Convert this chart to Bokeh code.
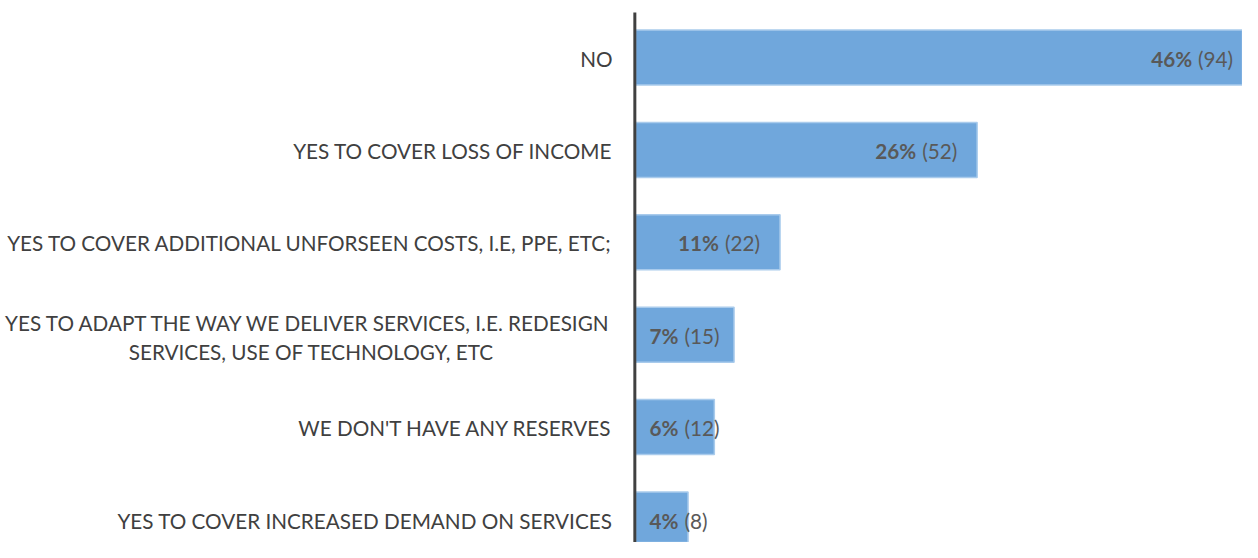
from bokeh.plotting import figure
from bokeh.models import ColumnDataSource, Range1d
from bokeh.core.properties import value
from bokeh.embed import file_html
from bokeh.resources import INLINE

categories = [
    "NO",
    "YES TO COVER LOSS OF INCOME",
    "YES TO COVER ADDITIONAL UNFORSEEN COSTS, I.E, PPE, ETC;",
    "YES TO ADAPT THE WAY WE DELIVER SERVICES, I.E. REDESIGN\nSERVICES, USE OF TECHNOLOGY, ETC",
    "WE DON'T HAVE ANY RESERVES",
    "YES TO COVER INCREASED DEMAND ON SERVICES",
]
counts = [94, 52, 22, 15, 12, 8]
percents = [46, 26, 11, 7, 6, 4]

FONT = "Lato"
BAR = "#70A7DC"
BAR_EDGE = "#A9CBEC"
TXT = "#404040"
VAL = "#595959"

W, H = 1242, 542
SCALE = 6.57           # px per count unit
ORIGIN = 635           # px of zero in frame
ROW = 92.4             # px per category row
TOP = 57               # px of first row centre

pos = list(range(len(categories)))

p = figure(width=W, height=H, output_backend="svg", toolbar_location=None,
           x_range=Range1d(-ORIGIN / SCALE, (W - ORIGIN) / SCALE),
           y_range=Range1d((H - TOP) / ROW, -TOP / ROW),
           min_border=0, outline_line_color=None,
           x_axis_location=None, y_axis_location=None)
p.grid.visible = False
p.background_fill_color = "white"
p.border_fill_color = "white"

src = ColumnDataSource(dict(y=pos, right=counts))
p.hbar(y="y", left=0, right="right", height=55 / ROW, source=src,
       fill_color=BAR, line_color=BAR_EDGE, line_width=1.5)

# axis line
p.segment(x0=[-0.1], x1=[-0.1], y0=[-TOP / ROW + 12 / ROW], y1=[(H - TOP) / ROW + 1],
          line_color="#404040", line_width=3)

# category labels
single = dict(x=[], y=[], t=[])
multi_first = dict(x=[], y=[], t=[])
multi_rest = dict(x=[], y=[], t=[])
for i, c in zip(pos, categories):
    lines = c.split("\n")
    if len(lines) == 1:
        single["x"].append(0); single["y"].append(i); single["t"].append(c)
    else:
        multi_first["x"].append(0); multi_first["y"].append(i); multi_first["t"].append(lines[0])
        for ln in lines[1:]:
            multi_rest["x"].append(0); multi_rest["y"].append(i); multi_rest["t"].append(ln)

common = dict(text_font=value(FONT), text_font_size="20.7px", text_color=TXT,
              text_baseline="middle")
p.text(x="x", y="y", text="t", source=ColumnDataSource(single),
       text_align="right", x_offset=-23, y_offset=1, **common)
p.text(x="x", y="y", text="t", source=ColumnDataSource(multi_first),
       text_align="right", x_offset=-23, y_offset=-12, **common)
p.text(x="x", y="y", text="t", source=ColumnDataSource(multi_rest),
       text_align="center", x_offset=-324, y_offset=17, **common)

# value labels: anchor at junction between bold percent and regular count
end_lab = dict(x=[], y=[], pct=[], cnt=[])
base_lab = dict(x=[], y=[], pct=[], cnt=[])
for i, c, pc in zip(pos, counts, percents):
    if c * SCALE - 58 > 46:
        d = end_lab; d["x"].append(c)
    else:
        d = base_lab; d["x"].append(0)
    d["y"].append(i); d["pct"].append(f"{pc}%"); d["cnt"].append(f"({c})")

vcommon = dict(text_font=value(FONT), text_font_size="20.7px", text_color=VAL,
               text_baseline="middle")
for d, off in ((end_lab, -58), (base_lab, 46)):
    s = ColumnDataSource(d)
    p.text(x="x", y="y", text="pct", source=s, text_align="right",
           x_offset=off - 3, y_offset=1, text_font_style="bold", **vcommon)
    p.text(x="x", y="y", text="cnt", source=s, text_align="left",
           x_offset=off + 3, y_offset=1, **vcommon)

open("out.html", "w").write(file_html(p, INLINE))
